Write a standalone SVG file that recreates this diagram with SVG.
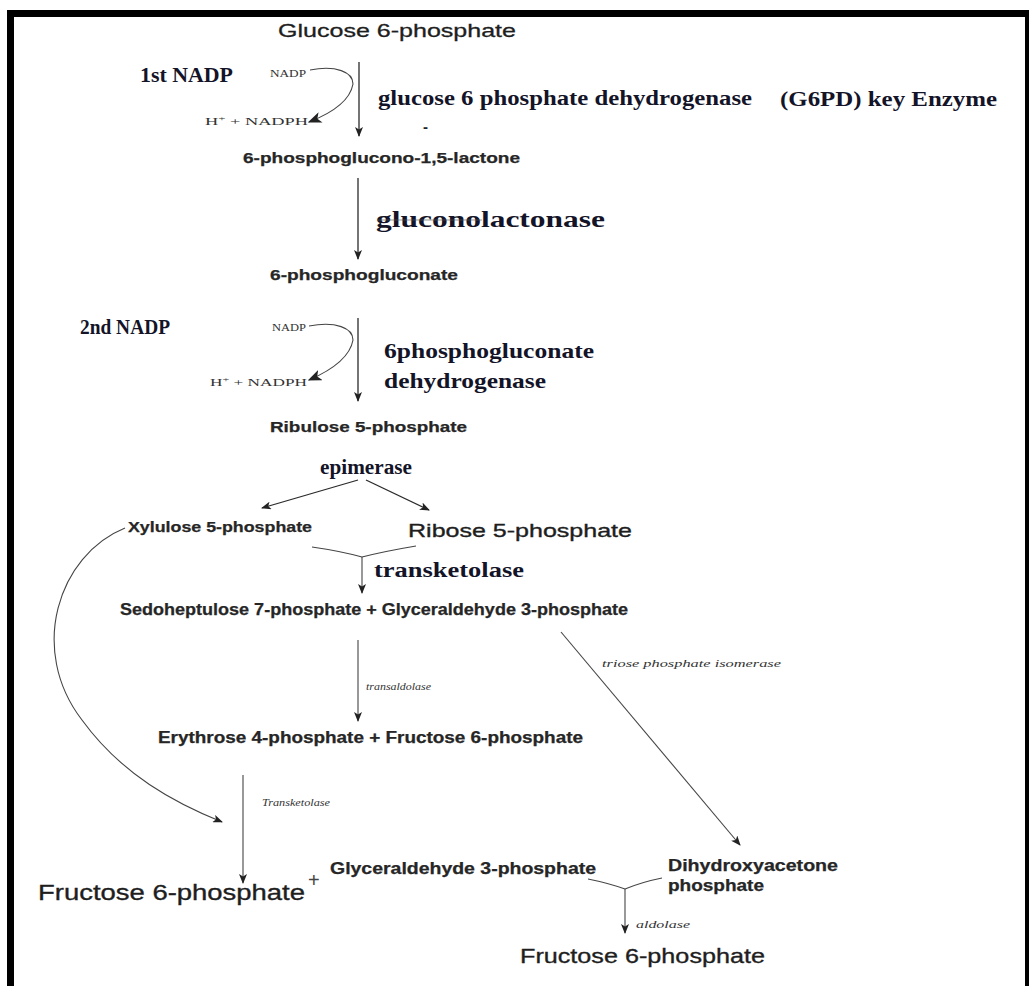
<svg xmlns="http://www.w3.org/2000/svg" width="1029" height="986" viewBox="0 0 1029 986">
  <style>
    .sans { font-family: "Liberation Sans", Arial, sans-serif; fill: #222; }
    .met { font-family: "Liberation Sans", Arial, sans-serif; font-weight: bold; font-size: 15px; fill: #262626; stroke: #262626; stroke-width: 0.25; }
    .big { font-family: "Liberation Sans", Arial, sans-serif; font-size: 20px; fill: #1e1e1e; stroke: #1e1e1e; stroke-width: 0.35; }
    .enz { font-family: "Liberation Serif", "Times New Roman", serif; font-weight: bold; font-size: 20px; fill: #141428; }
    .cof { font-family: "Liberation Serif", "Times New Roman", serif; font-size: 10px; fill: #333; }
    .ital { font-family: "Liberation Serif", "Times New Roman", serif; font-style: italic; font-size: 10px; fill: #333; }
    .ln { fill: none; stroke: #2a2a2a; stroke-width: 1.3; }
    .thin { fill: none; stroke: #444; stroke-width: 1.1; }
  </style>
  <defs>
    <marker id="ah" viewBox="0 0 10 8" refX="9" refY="4" markerWidth="10" markerHeight="8" markerUnits="userSpaceOnUse" orient="auto">
      <path d="M0,0 L10,4 L0,8 L2.5,4 z" fill="#222"/>
    </marker>
    <marker id="ahs" viewBox="0 0 10 8" refX="9" refY="4" markerWidth="14" markerHeight="11" markerUnits="userSpaceOnUse" orient="auto">
      <path d="M0,0 L10,4 L0,8 L2.5,4 z" fill="#222"/>
    </marker>
  </defs>

  <rect width="1029" height="986" fill="#fff"/>
  <!-- frame -->
  <g id="frame" fill="#000">
    <rect x="7" y="10" width="1022" height="7"/>
    <rect x="7" y="10" width="7" height="976"/>
    <rect x="1025" y="10" width="4" height="976"/>
  </g>

  <!-- connectors -->
  <g id="connectors">
    <!-- oxidative phase -->
    <line class="ln" x1="359" y1="62" x2="359" y2="136" marker-end="url(#ah)"/>
    <path class="thin" d="M310,70 C336,65 353,72 353,84 C350,101 332,113 309,122" marker-end="url(#ahs)"/>
    <line class="ln" x1="358" y1="178" x2="358" y2="259" marker-end="url(#ah)"/>
    <line class="ln" x1="358" y1="318" x2="358" y2="401" marker-end="url(#ah)"/>
    <path class="thin" d="M309,326 C336,321 353,328 353,340 C350,357 332,370 309,380" marker-end="url(#ahs)"/>
    <!-- epimerase split -->
    <line class="ln" x1="358" y1="480" x2="262" y2="508" marker-end="url(#ah)"/>
    <line class="ln" x1="366" y1="480" x2="429" y2="510" marker-end="url(#ah)"/>
    <!-- transketolase merge -->
    <path class="thin" d="M312,547 Q340,551 362,557 Q386,551 416,546"/>
    <line class="thin" x1="362" y1="557" x2="362" y2="593" marker-end="url(#ah)"/>
    <!-- transaldolase -->
    <line class="thin" x1="358" y1="640" x2="358" y2="721" marker-end="url(#ah)"/>
    <!-- triose phosphate isomerase -->
    <line class="thin" x1="561" y1="632" x2="740" y2="845" marker-end="url(#ah)"/>
    <!-- xylulose 5-phosphate to second transketolase -->
    <path class="thin" d="M125,528 C58,555 28,650 82,720 C122,775 175,803 222,822" marker-end="url(#ah)"/>
    <line class="thin" x1="243" y1="775" x2="243" y2="883" marker-end="url(#ah)"/>
    <!-- aldolase merge -->
    <path class="thin" d="M588,879 Q608,883 625,889 Q642,882 662,878"/>
    <line class="thin" x1="625" y1="889" x2="625" y2="933" marker-end="url(#ah)"/>
  </g>

  <!-- metabolites -->
  <g id="glucose6p"><text class="big" x="278" y="37" textLength="238" lengthAdjust="spacingAndGlyphs" style="font-size:19px;stroke-width:0.3">Glucose 6-phosphate</text></g>
  <g id="lactone"><text class="met" x="243" y="163" textLength="277" lengthAdjust="spacingAndGlyphs">6-phosphoglucono-1,5-lactone</text></g>
  <g id="phosphogluconate"><text class="met" x="270" y="280" textLength="188" lengthAdjust="spacingAndGlyphs">6-phosphogluconate</text></g>
  <g id="ribulose5p"><text class="met" x="270" y="432" textLength="197" lengthAdjust="spacingAndGlyphs">Ribulose 5-phosphate</text></g>
  <g id="xylulose5p"><text class="met" x="128" y="532" textLength="184" lengthAdjust="spacingAndGlyphs">Xylulose 5-phosphate</text></g>
  <g id="ribose5p"><text class="big" x="408" y="537" textLength="224" lengthAdjust="spacingAndGlyphs" style="font-size:19px">Ribose 5-phosphate</text></g>
  <g id="sedoheptulose-g3p"><text class="met" x="120" y="615" textLength="508" lengthAdjust="spacingAndGlyphs" style="font-size:16px">Sedoheptulose 7-phosphate + Glyceraldehyde 3-phosphate</text></g>
  <g id="erythrose-f6p"><text class="met" x="158" y="743" textLength="425" lengthAdjust="spacingAndGlyphs" style="font-size:16px">Erythrose 4-phosphate + Fructose 6-phosphate</text></g>
  <g id="fructose6p-left"><text class="big" x="38" y="900" textLength="267" lengthAdjust="spacingAndGlyphs" style="font-size:22px">Fructose 6-phosphate</text></g>
  <g id="plus"><text class="sans" x="308" y="887" style="font-size:20px;fill:#444">+</text></g>
  <g id="g3p"><text class="met" x="330" y="874" textLength="266" lengthAdjust="spacingAndGlyphs" style="font-size:16px">Glyceraldehyde 3-phosphate</text></g>
  <g id="dhap">
    <text class="met" x="668" y="871" textLength="170" lengthAdjust="spacingAndGlyphs" style="font-size:16px">Dihydroxyacetone</text>
    <text class="met" x="668" y="891" textLength="96" lengthAdjust="spacingAndGlyphs" style="font-size:16px">phosphate</text>
  </g>
  <g id="fructose6p-right"><text class="big" x="520" y="963" textLength="245" lengthAdjust="spacingAndGlyphs" style="font-size:21px">Fructose 6-phosphate</text></g>

  <!-- cofactors -->
  <g id="nadp1">
    <text class="enz" x="140" y="82" textLength="93" lengthAdjust="spacingAndGlyphs">1st NADP</text>
    <text class="cof" x="270" y="77" textLength="36" lengthAdjust="spacingAndGlyphs">NADP</text>
    <text class="cof" x="205" y="125" textLength="103" lengthAdjust="spacingAndGlyphs">H<tspan dy="-4" font-size="7">+</tspan><tspan dy="4"> + NADPH</tspan></text>
  </g>
  <g id="nadp2">
    <text class="enz" x="80" y="334" textLength="90" lengthAdjust="spacingAndGlyphs">2nd NADP</text>
    <text class="cof" x="272" y="331" textLength="34" lengthAdjust="spacingAndGlyphs">NADP</text>
    <text class="cof" x="210" y="386" textLength="97" lengthAdjust="spacingAndGlyphs">H<tspan dy="-4" font-size="7">+</tspan><tspan dy="4"> + NADPH</tspan></text>
  </g>

  <!-- enzymes -->
  <g id="g6pd">
    <text class="enz" x="378" y="105" textLength="374" lengthAdjust="spacingAndGlyphs">glucose 6 phosphate dehydrogenase</text>
    <text class="enz" x="780" y="106" textLength="217" lengthAdjust="spacingAndGlyphs">(G6PD) key Enzyme</text>
    <text class="sans" x="423" y="132" style="font-size:15px;font-weight:bold">-</text>
  </g>
  <g id="gluconolactonase">
    <text class="enz" x="376" y="227" textLength="229" lengthAdjust="spacingAndGlyphs" style="font-size:24px">gluconolactonase</text>
    <line x1="378" y1="220" x2="482" y2="220" stroke="#555" stroke-width="1.2" opacity="0.6"/>
  </g>
  <g id="pgd">
    <text class="enz" x="384" y="358" textLength="210" lengthAdjust="spacingAndGlyphs" style="font-size:21px">6phosphogluconate</text>
    <text class="enz" x="384" y="388" textLength="162" lengthAdjust="spacingAndGlyphs" style="font-size:21px">dehydrogenase</text>
  </g>
  <g id="epimerase"><text class="enz" x="320" y="474" textLength="92" lengthAdjust="spacingAndGlyphs">epimerase</text></g>
  <g id="transketolase1"><text class="enz" x="374" y="577" textLength="150" lengthAdjust="spacingAndGlyphs">transketolase</text></g>
  <g id="transaldolase"><text class="ital" x="366" y="690" textLength="65" lengthAdjust="spacingAndGlyphs">transaldolase</text></g>
  <g id="tpi"><text class="ital" x="602" y="667" textLength="179" lengthAdjust="spacingAndGlyphs">triose phosphate isomerase</text></g>
  <g id="transketolase2"><text class="ital" x="262" y="806" textLength="68" lengthAdjust="spacingAndGlyphs">Transketolase</text></g>
  <g id="aldolase"><text class="ital" x="636" y="928" textLength="54" lengthAdjust="spacingAndGlyphs">aldolase</text></g>
</svg>
